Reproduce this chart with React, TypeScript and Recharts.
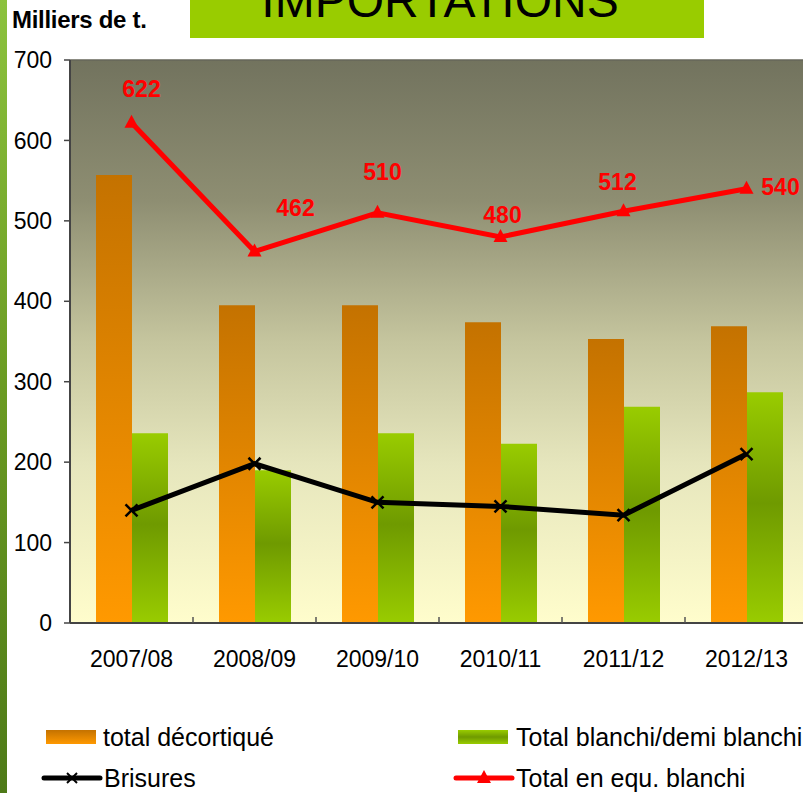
import * as React from 'react';
import { Bar, CartesianGrid, ComposedChart, LabelList, Line, ReferenceLine, XAxis, YAxis } from 'recharts';

const categories = ['2007/08', '2008/09', '2009/10', '2010/11', '2011/12', '2012/13'];
const totalDecortique = [557, 395, 395, 374, 353, 369];
const totalBlanchi = [236, 190, 236, 223, 269, 287];
const brisures = [140, 198, 150, 145, 134, 210];
const totalEquBlanchi = [622, 462, 510, 480, 512, 540];
const yTicks = [0, 100, 200, 300, 400, 500, 600, 700];
const seriesNames = ['total décortiqué', 'Total blanchi/demi blanchi', 'Brisures', 'Total en equ. blanchi'];

// hand-placed label offsets (dx, dy) for the red series, like the original
const labelOffsets = [
  [10, -34],
  [41, -43],
  [5, -41],
  [2, -22],
  [-6, -29],
  [34, -2],
];

const FONT = '"Liberation Sans", Arial, sans-serif';
const CHART_W = 820;
const CHART_H = 793;
const PLOT_LEFT = 70;
const PLOT_RIGHT_MARGIN = 12;
const BAND = (CHART_W - PLOT_LEFT - PLOT_RIGHT_MARGIN) / categories.length;

const data = categories.map((cat, i) => ({
  cat,
  decortique: totalDecortique[i],
  blanchi: totalBlanchi[i],
  brisures: brisures[i],
  equ: totalEquBlanchi[i],
}));

const XTick = (props: any) => {
  const { x, y, payload } = props;
  return (
    <g>
      <line x1={x + BAND / 2} x2={x + BAND / 2} y1={y} y2={y - 6} stroke="#555" strokeWidth={1.5} />
      <text x={x} y={y + 36} textAnchor="middle" dominantBaseline="central" fill="#000" fontSize={23} fontFamily={FONT}>
        {payload.value}
      </text>
    </g>
  );
};

const TriangleDot = (props: any) => {
  const { cx, cy } = props;
  if (cx == null || cy == null) return null;
  return <polygon points={`${cx},${cy - 8} ${cx - 7},${cy + 5} ${cx + 7},${cy + 5}`} fill="#FF0000" />;
};

const CrossDot = (props: any) => {
  const { cx, cy } = props;
  if (cx == null || cy == null) return null;
  return (
    <g stroke="#000" strokeWidth={2.5}>
      <line x1={cx - 6} y1={cy - 6} x2={cx + 6} y2={cy + 6} />
      <line x1={cx - 6} y1={cy + 6} x2={cx + 6} y2={cy - 6} />
    </g>
  );
};

const EquLabel = (props: any) => {
  const { x, y, value, index } = props;
  const [dx, dy] = labelOffsets[index] || [0, -20];
  return (
    <text
      x={x + dx}
      y={y + dy}
      textAnchor="middle"
      dominantBaseline="central"
      fill="#FF0000"
      fontWeight="bold"
      fontSize={23}
      fontFamily={FONT}
    >
      {value}
    </text>
  );
};

const legendText: React.CSSProperties = {
  position: 'absolute',
  fontFamily: FONT,
  fontSize: 25,
  lineHeight: '28px',
  color: '#000',
  whiteSpace: 'nowrap',
};

export default function App() {
  return (
    <div
      style={{
        position: 'fixed',
        left: 0,
        top: 0,
        width: 803,
        height: 793,
        overflow: 'hidden',
        background: '#fff',
      }}
    >
      {/* green leaf strip on the left edge */}
      <div
        style={{
          position: 'absolute',
          left: 0,
          top: 0,
          width: 7,
          height: 793,
          background: 'linear-gradient(to bottom, #8cc23e 0%, #6a9a22 50%, #4e7a18 100%)',
        }}
      />

      <div style={{ position: 'absolute', left: 0, top: 0 }}>
        <ComposedChart
          width={CHART_W}
          height={CHART_H}
          data={data}
          margin={{ top: 60, right: PLOT_RIGHT_MARGIN, left: 0, bottom: 120 }}
          barGap={0}
        >
          <defs>
            <linearGradient id="plotBg" x1="0" y1="0" x2="0" y2="1">
              <stop offset="0%" stopColor="#72735e" />
              <stop offset="25%" stopColor="#8e8e72" />
              <stop offset="50%" stopColor="#c5c59e" />
              <stop offset="72%" stopColor="#e6e6bd" />
              <stop offset="100%" stopColor="#fffdcc" />
            </linearGradient>
            <linearGradient id="orangeGrad" x1="0" y1="0" x2="0" y2="1">
              <stop offset="0%" stopColor="#c47200" />
              <stop offset="100%" stopColor="#ff9900" />
            </linearGradient>
            <linearGradient id="greenGrad" x1="0" y1="0" x2="0" y2="1">
              <stop offset="0%" stopColor="#99cc00" />
              <stop offset="48%" stopColor="#6f9a00" />
              <stop offset="100%" stopColor="#99cc00" />
            </linearGradient>
          </defs>
          <CartesianGrid horizontal={false} vertical={false} fill="url(#plotBg)" />
          <XAxis
            dataKey="cat"
            height={50}
            axisLine={{ stroke: '#444', strokeWidth: 2 }}
            tickLine={false}
            tickSize={0}
            tickMargin={0}
            tick={<XTick />}
            interval={0}
          />
          <YAxis
            width={PLOT_LEFT}
            domain={[0, 700]}
            ticks={yTicks}
            interval={0}
            axisLine={{ stroke: '#444', strokeWidth: 2 }}
            tickLine={{ stroke: '#444', strokeWidth: 1.5 }}
            tickSize={6}
            tickMargin={12}
            tick={{ fill: '#000', fontSize: 23, fontFamily: FONT }}
          />
          <ReferenceLine y={700} stroke="#66665a" strokeWidth={1.5} />
          <Bar dataKey="decortique" name={seriesNames[0]} fill="url(#orangeGrad)" barSize={36} isAnimationActive={false} />
          <Bar dataKey="blanchi" name={seriesNames[1]} fill="url(#greenGrad)" barSize={36} isAnimationActive={false} />
          <Line
            dataKey="brisures"
            name={seriesNames[2]}
            stroke="#000"
            strokeWidth={5}
            dot={<CrossDot />}
            activeDot={false}
            type="linear"
            isAnimationActive={false}
          />
          <Line
            dataKey="equ"
            name={seriesNames[3]}
            stroke="#FF0000"
            strokeWidth={5}
            dot={<TriangleDot />}
            activeDot={false}
            type="linear"
            isAnimationActive={false}
          >
            <LabelList dataKey="equ" content={<EquLabel />} />
          </Line>
        </ComposedChart>
      </div>

      {/* axis unit label */}
      <div
        style={{
          position: 'absolute',
          left: 12,
          top: 7,
          fontFamily: FONT,
          fontSize: 24,
          fontWeight: 'bold',
          letterSpacing: -0.3,
          lineHeight: '26px',
          whiteSpace: 'nowrap',
        }}
      >
        Milliers de t.
      </div>

      {/* title box */}
      <div
        style={{
          position: 'absolute',
          left: 190,
          top: 0,
          width: 514,
          height: 38,
          background: '#99cc00',
          overflow: 'hidden',
        }}
      >
        <div
          style={{
            position: 'absolute',
            left: -14,
            right: 0,
            top: -23,
            textAlign: 'center',
            fontFamily: FONT,
            fontSize: 48,
            lineHeight: '48px',
            color: '#000',
          }}
        >
          IMPORTATIONS
        </div>
      </div>

      {/* legend */}
      <div
        style={{
          position: 'absolute',
          left: 46,
          top: 730,
          width: 50,
          height: 14,
          background: 'linear-gradient(to bottom, #c47200, #ff9900)',
        }}
      />
      <div style={{ ...legendText, left: 103, top: 723 }}>{seriesNames[0]}</div>
      <div
        style={{
          position: 'absolute',
          left: 458,
          top: 730,
          width: 50,
          height: 14,
          background: 'linear-gradient(to bottom, #99cc00, #6f9a00 50%, #99cc00)',
        }}
      />
      <div style={{ ...legendText, left: 516, top: 723 }}>{seriesNames[1]}</div>

      <svg style={{ position: 'absolute', left: 40, top: 766 }} width={66} height={24}>
        <line x1={4} y1={12} x2={60} y2={12} stroke="#000" strokeWidth={5} strokeLinecap="round" />
        <g stroke="#000" strokeWidth={2}>
          <line x1={27} y1={7} x2={37} y2={17} />
          <line x1={27} y1={17} x2={37} y2={7} />
        </g>
      </svg>
      <div style={{ ...legendText, left: 104, top: 764 }}>{seriesNames[2]}</div>

      <svg style={{ position: 'absolute', left: 452, top: 766 }} width={66} height={24}>
        <line x1={4} y1={12} x2={60} y2={12} stroke="#FF0000" strokeWidth={5} strokeLinecap="round" />
        <polygon points="32,4 25,17 39,17" fill="#FF0000" />
      </svg>
      <div style={{ ...legendText, left: 516, top: 764 }}>{seriesNames[3]}</div>
    </div>
  );
}
